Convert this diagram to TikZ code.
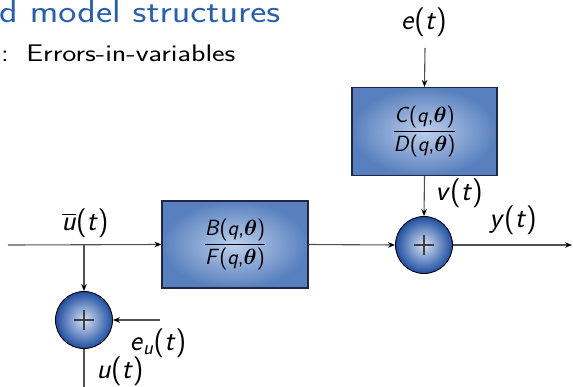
\RequirePackage{fix-cm}
\documentclass[tikz,border=0pt]{standalone}
\usepackage{amsmath}
\usepackage{graphicx}
\usepackage{fontspec}
\usetikzlibrary{arrows.meta}
\definecolor{titleblue}{RGB}{40,95,175}
\definecolor{boxout}{RGB}{88,128,190}
\definecolor{boxin}{RGB}{190,208,236}
\definecolor{boxedge}{RGB}{28,40,70}
\definecolor{sumout}{RGB}{30,78,160}
\definecolor{sumin}{RGB}{215,226,244}
\definecolor{wire}{RGB}{80,80,80}
\newcommand{\vi}[1]{\textit{#1}}
\tikzset{
  blockbox/.style={draw=boxedge, line width=1.1pt, inner color=boxin, outer color=boxout, rectangle, inner sep=0pt},
  sumnode/.style={draw=black, line width=0.9pt, circle, inner color=sumin, outer color=sumout, minimum size=57pt, inner sep=0pt},
  sig/.style={font=\fontsize{29}{32}\selectfont\sffamily, inner sep=0pt},
  frac/.style={font=\fontsize{22}{24}\selectfont\sffamily, inner sep=0pt},
  wireline/.style={draw=wire, line width=1.1pt},
  arr/.style={wireline, -{Stealth[length=7pt,width=5.5pt,color=black]}},
}
\begin{document}
\begin{tikzpicture}[x=1pt,y=-1pt]
\useasboundingbox (0,0) rectangle (573,386);
% titles
\node[anchor=base west, inner sep=0pt, text=titleblue, font=\fontsize{32}{34}\selectfont\sffamily] (title) at (-1,22) {\scalebox{1.2}[1]{d model structures}};
\node[anchor=base west, inner sep=0pt, font=\fontsize{24}{28}\selectfont\sffamily] (sub) at (1,61.5) {\scalebox{1.245}[1]{:\hspace{4pt} Errors-in-variables}};
% blocks
\node[blockbox, minimum width=145pt, minimum height=88pt] (cd) at (424.5,131.5) {};
\node[frac] (cdlab) at (cd.center) {$\dfrac{\mbox{\vi{C}(\vi{q},}\boldsymbol{\theta}\mbox{)}}{\mbox{\vi{D}(\vi{q},}\boldsymbol{\theta}\mbox{)}}$};
\node[blockbox, minimum width=146pt, minimum height=87pt] (bf) at (235,244.5) {};
\node[frac] (bflab) at (bf.center) {$\dfrac{\mbox{\vi{B}(\vi{q},}\boldsymbol{\theta}\mbox{)}}{\mbox{\vi{F}(\vi{q},}\boldsymbol{\theta}\mbox{)}}$};
\node[sumnode] (s2) at (424,245) {};
\node[sumnode] (s1) at (84,320) {};
\foreach \s in {s1,s2}{
  \draw[draw=wire!80!black, line width=1.1pt] ([xshift=-10pt]\s.center) -- ([xshift=10pt]\s.center);
  \draw[draw=wire!80!black, line width=1.1pt] ([yshift=-10pt]\s.center) -- ([yshift=10pt]\s.center);
}
% coordinates
\coordinate (etop) at (425,48);
\coordinate (inp) at (8,245);
\coordinate (br) at (84,245);
\coordinate (out) at (572,245);
\coordinate (eu) at (160,320);
\coordinate (ubot) at (84,390);
% connectors
\draw[arr] (etop) -- (cd.north);
\draw[arr] (cd.south) -- (s2.north);
\draw[arr] (inp) -- (bf.west);
\draw[arr] (bf.east) -- (s2.west);
\draw[arr] (s2.east) -- (out);
\draw[arr] (br) -- (s1.north);
\draw[arr] (eu) -- (s1.east);
\draw[wireline] (s1.south) -- (ubot);
% labels
\node[sig] (le) at (424,22) {\vi{e}(\vi{t})};
\node[sig] (lv) at (459,193) {\vi{v}(\vi{t})};
\node[sig] (ly) at (513,220) {\vi{y}(\vi{t})};
\node[sig] (lub) at (85,223) {$\overline{\mbox{\vi{u}}}$(\vi{t})};
\node[sig] (leu) at (158,343) {\vi{e}\textsubscript{\vi{u}}(\vi{t})};
\node[sig] (lu) at (120,371) {\vi{u}(\vi{t})};
\end{tikzpicture}
\end{document}
